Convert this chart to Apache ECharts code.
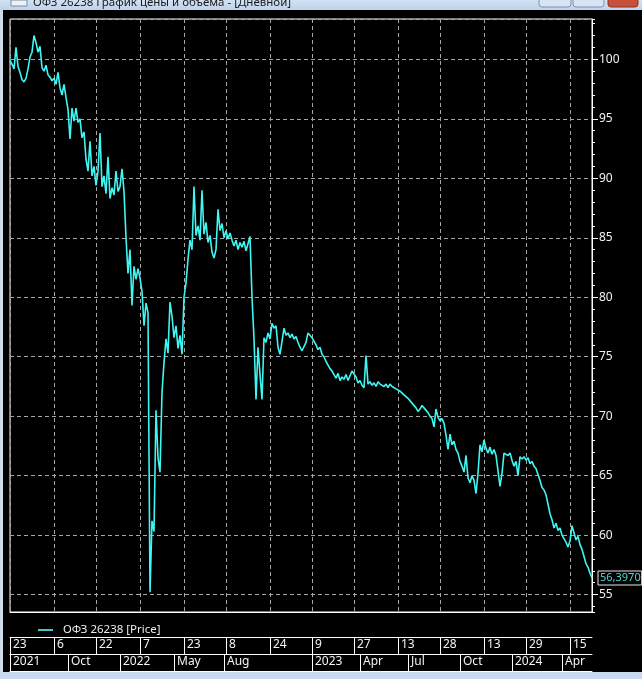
<!DOCTYPE html>
<html>
<head>
<meta charset="utf-8">
<title>ОФЗ 26238</title>
<script src="https://cdn.jsdelivr.net/npm/echarts@6/dist/echarts.min.js"></script>
<style>
html, body { margin: 0; padding: 0; background: #000; }
#mountNode { width: 642px; height: 679px; }
</style>
</head>
<body>
<div id="mountNode"></div>
<script>
// цена закрытия, одна точка на ~2px графика (июнь 2021 - май 2024)
var price = [
	99.9, 99.6, 99.2, 101.0, 99.4, 98.9, 98.3, 98.1, 98.4, 99.2,
	100.2, 100.6, 102.0, 101.4, 100.6, 101.1, 99.3, 99.0, 99.5, 98.7,
	98.5, 98.2, 98.4, 97.9, 98.9, 97.6, 97.0, 97.9, 96.8, 95.8,
	93.3, 95.9, 94.8, 95.9, 94.7, 95.0, 93.4, 93.9, 91.6, 90.6,
	93.1, 90.2, 91.0, 89.4, 90.6, 93.8, 89.3, 90.2, 88.7, 91.8,
	88.3, 89.2, 88.6, 90.6, 88.9, 89.3, 90.8, 88.9, 85.0, 82.0,
	84.0, 79.3, 82.6, 81.5, 82.4, 81.6, 80.5, 77.6, 79.5, 78.7,
	55.2, 61.2, 60.3, 70.5, 66.5, 65.3, 72.0, 74.5, 76.5, 75.3,
	79.6, 78.4, 76.6, 77.6, 75.7, 76.8, 75.2, 80.0, 81.2, 83.2,
	84.8, 84.0, 89.3, 85.2, 86.0, 84.8, 89.0, 85.3, 86.3, 84.6,
	85.2, 83.8, 83.3, 84.0, 87.4, 85.6, 86.2, 85.0, 85.6, 84.9,
	85.4, 84.8, 84.3, 84.8, 84.0, 84.6, 84.2, 84.7, 83.9, 84.5,
	85.1, 80.0, 76.5, 71.4, 75.8, 73.5, 71.4, 76.6, 76.2, 77.0,
	76.5, 77.8, 77.4, 77.6, 75.8, 75.2, 76.3, 77.4, 76.8, 77.0,
	76.6, 76.9, 76.5, 76.7, 76.2, 75.8, 75.5, 75.6, 76.2, 77.0,
	77.1, 76.6, 76.3, 76.0, 75.6, 75.8, 75.2, 75.0, 74.6, 74.3,
	74.0, 73.8, 73.5, 73.2, 73.6, 73.0, 73.3, 73.1, 73.5, 73.0,
	73.4, 73.8, 73.9, 73.3, 72.8, 73.0, 72.6, 72.4, 75.1, 72.7,
	72.9, 72.6, 72.8, 72.5, 72.9, 72.7, 72.8, 72.5, 72.7, 72.4,
	72.7, 72.5, 72.6, 72.3, 72.4, 72.1, 72.2, 71.8, 71.9, 71.5,
	71.4, 71.1, 71.0, 70.7, 70.4, 70.6, 70.9, 70.7, 70.8, 70.3,
	70.0, 69.8, 69.1, 70.6, 69.9, 69.6, 69.8, 69.4, 68.4, 67.2,
	68.5, 67.6, 67.9, 67.2, 66.9, 66.2, 65.8, 65.3, 66.7, 64.8,
	64.4, 65.0, 64.6, 63.5, 65.2, 67.6, 67.0, 68.0, 67.3, 66.9,
	67.4, 66.8, 67.2, 66.7, 65.4, 64.1, 65.2, 66.9, 67.0, 66.7,
	66.9, 66.3, 65.8, 66.2, 65.0, 66.6, 66.4, 66.6, 66.3, 66.5,
	66.0, 66.2, 65.8, 65.6, 65.1, 64.6, 64.0, 63.8, 63.4, 62.6,
	61.8, 61.3, 60.6, 61.0, 60.4, 60.6, 60.0, 59.7, 59.4, 59.0,
	59.5, 60.8, 60.2, 59.6, 59.9, 59.2, 58.8, 58.2, 57.6, 57.3,
	56.8, 56.397
];
var cats = price.map(function(v, i) { return i; });

// подписи шкалы времени (индекс точки, текст)
var dayIdx = [0, 22, 43, 65, 87, 108, 130, 151, 172, 194, 215, 237, 258, 280];
var dayLbl = ['23', '6', '22', '7', '23', '8', '24', '9', '27', '13', '28', '13', '29', '15'];
var monIdx = [0, 29, 55, 82, 107, 151, 175, 199, 225, 251, 276];
var monLbl = ['2021', 'Oct', '2022', 'May', 'Aug', '2023', 'Apr', 'Jul', 'Oct', '2024', 'Apr'];

var yMin = 53.54, yMax = 103.39;
var lastTxt = '56,3970';
var seriesName = 'ОФЗ 26238 [Price]';

var font = 'Noto Sans';
var grid = '#a6a6a6';

function isDay(i) { return dayIdx.indexOf(i) >= 0; }

// строка подписей под графиком
function rowAxis(offset, idx, lbl) {
	return {
		type: 'category', data: cats, boundaryGap: false, position: 'bottom', offset: offset,
		axisLine: { show: true, lineStyle: { color: '#fff', width: 1 } },
		axisTick: { show: !!idx, length: 17, interval: function(i) { return idx ? idx.indexOf(i) >= 0 : false; }, lineStyle: { color: '#fff' } },
		axisLabel: {
			show: !!idx, margin: 2, align: 'left', padding: [0, 0, 0, 3],
			color: '#f2f2f2', fontFamily: font, fontSize: 12,
			interval: function(i) { return idx ? idx.indexOf(i) >= 0 : false; },
			formatter: function(v, i) { return idx ? lbl[idx.indexOf(i)] : ''; }
		},
		splitLine: { show: false }
	};
}

var myChart = echarts.init(document.getElementById('mountNode'));
myChart.setOption({
	animation: false,
	backgroundColor: '#000',
	grid: { left: 10, right: 50, top: 19, bottom: 67, show: true, borderColor: '#fff', borderWidth: 1 },
	legend: {
		left: 33, top: 619, itemWidth: 15, itemHeight: 2, icon: 'rect',
		itemStyle: { color: '#45c8c4' },
		textStyle: { color: '#ececec', fontFamily: font, fontSize: 11.5, padding: [0, 0, 0, 5] },
		data: [seriesName]
	},
	xAxis: [{
		type: 'category', data: cats, boundaryGap: false,
		axisLine: { lineStyle: { color: '#fff' } },
		axisTick: { show: false },
		axisLabel: { show: false },
		splitLine: { show: true, interval: function(i) { return isDay(i); }, lineStyle: { color: grid, type: [4, 3] } }
	},
		rowAxis(25, dayIdx, dayLbl),
		rowAxis(42, monIdx, monLbl),
		rowAxis(59, null, null)
	],
	yAxis: [{
		type: 'value', position: 'right', min: yMin, max: yMax, minInterval: 5, maxInterval: 5, splitNumber: 10,
		axisLine: { show: true, lineStyle: { color: '#fff' } },
		axisTick: { show: true, length: 6, lineStyle: { color: '#fff' } },
		axisLabel: { color: '#f2f2f2', fontFamily: font, fontSize: 12, margin: 7, showMinLabel: false, showMaxLabel: false },
		splitLine: { show: true, lineStyle: { color: grid, type: [4, 3] } }
	}, {
		// мелкие риски через 1
		type: 'value', position: 'right', min: yMin, max: yMax, minInterval: 1, maxInterval: 1, splitNumber: 50,
		axisLine: { show: false },
		axisTick: { show: true, length: 3, lineStyle: { color: '#fff' } },
		axisLabel: { show: false },
		splitLine: { show: false }
	}],
	series: [{
		name: seriesName,
		type: 'line',
		data: price,
		showSymbol: false,
		symbol: 'none',
		lineStyle: { color: '#3ef6f2', width: 1.6 },
		itemStyle: { color: '#3ef6f2' },
		endLabel: {
			show: true, formatter: lastTxt, distance: 6,
			color: '#4fd6d2', fontFamily: font, fontSize: 11,
			borderColor: '#e6e6e6', borderWidth: 1, padding: [2, 1, 1, 2]
		}
	}],
	graphic: [
		// рамка окна
		{ type: 'rect', shape: { x: 0, y: 0, width: 642, height: 10 }, style: { fill: new echarts.graphic.LinearGradient(0, 0, 0, 1, [{ offset: 0, color: '#d3e2f4' }, { offset: 1, color: '#bcd1ea' }]) } },
		{ type: 'rect', shape: { x: 11, y: 0, width: 16, height: 6 }, style: { fill: '#eef2f7', stroke: '#7a8ca3', lineWidth: 1 } },
		{ type: 'text', x: 33, y: 9, style: { text: 'ОФЗ 26238 График цены и объема - [Дневной]', fill: '#1b1b1b', font: '11.5px "Noto Sans"', verticalAlign: 'bottom' } },
		{ type: 'rect', shape: { x: 539, y: -6, width: 32, height: 13, r: 3 }, style: { fill: '#d7e4f3', stroke: '#7d93b2' } },
		{ type: 'rect', shape: { x: 573, y: -6, width: 31, height: 13, r: 3 }, style: { fill: '#d7e4f3', stroke: '#7d93b2' } },
		{ type: 'rect', shape: { x: 608, y: -6, width: 30, height: 13, r: 3 }, style: { fill: '#c8503a', stroke: '#8e2e20' } },
		{ type: 'rect', shape: { x: 0, y: 10, width: 3, height: 662 }, style: { fill: '#cfdcea' } },
		{ type: 'rect', shape: { x: 0, y: 672, width: 642, height: 7 }, style: { fill: '#c9daee' } }
	]
});
</script>
</body>
</html>
